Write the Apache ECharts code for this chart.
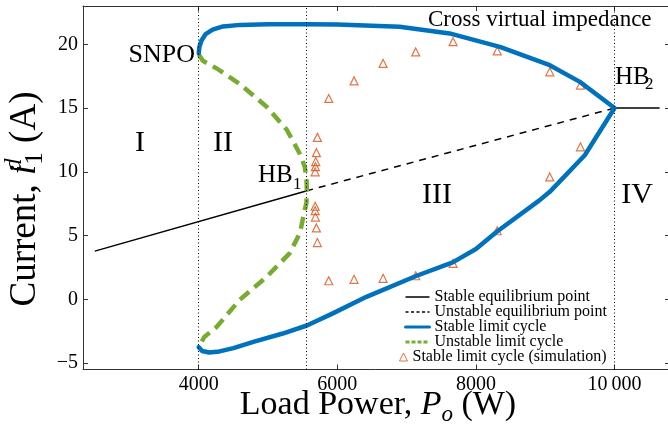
<!DOCTYPE html>
<html>
<head>
<meta charset="utf-8">
<script src="https://cdn.jsdelivr.net/npm/echarts@6/dist/echarts.min.js"></script>
<style>
html, body { margin: 0; padding: 0; background: #fff; }
#chart { width: 668px; height: 437px; }
</style>
</head>
<body>
<div id="chart"></div>
<script>
// equilibrium branch (load power W, current A)
const eqStableLeft = [[2500, 3.78], [5550, 8.5]]
const eqUnstable = [[5550, 8.5], [10000, 15.0]]
const eqStableRight = [[10000, 15.0], [10650, 15.0]]

// stable limit cycle: lower branch then back along the upper branch
const lcStable = [
  [4000, -3.75], [4050, -4.05], [4150, -4.17], [4300, -4.08], [4500, -3.82],
  [4800, -3.32], [5200, -2.7], [5560, -2.05], [5935, -1.1], [6420, 0.2],
  [7145, 1.85], [7665, 2.9], [8000, 3.95], [8300, 5.3], [8920, 7.78],
  [9065, 8.43], [9570, 11.3], [10000, 15.0],
  [9500, 17.05], [9065, 18.36], [8345, 19.8], [7620, 20.85], [6900, 21.37],
  [6000, 21.55], [5560, 21.57], [5000, 21.57], [4600, 21.52], [4350, 21.4],
  [4200, 21.15], [4100, 20.8], [4040, 20.3], [4010, 19.8], [4000, 19.3]
]

// unstable limit cycle: SNPO -> HB1 -> lower fold
const lcUnstable = [
  [4000, 19.2], [4060, 18.7], [4260, 18.1], [4590, 16.9], [4980, 15.1],
  [5270, 13.3], [5460, 11.4], [5530, 10.4], [5555, 9.4], [5560, 8.5],
  [5555, 7.6], [5530, 7.0], [5460, 5.2], [5310, 3.6], [4980, 1.77],
  [4590, -0.05], [4260, -2.15], [4080, -2.95], [4000, -3.75]
]

// simulated limit cycle extrema
const simPoints = [
  [5876, 15.75], [6241, 17.13], [6660, 18.5], [7131, 19.4], [7670, 20.2],
  [8307, 19.48], [9065, 17.84], [9508, 16.8],
  [9508, 11.96], [9065, 9.6], [8307, 5.38], [7670, 2.82], [7131, 1.85],
  [6660, 1.65], [6241, 1.57], [5876, 1.46],
  [5712, 12.7], [5698, 11.5], [5688, 10.8], [5684, 10.4], [5680, 10.0],
  [5680, 7.3], [5680, 6.95], [5684, 6.45], [5698, 5.6], [5712, 4.45]
]

const regionLines = [4000, 5550, 10000]
const xTicks = [4000, 6000, 8000, 10000]
const yTicks = [-5, 0, 5, 10, 15, 20]

const FONT = "'Liberation Serif', 'Times New Roman', serif"
const AXIS_COLOR = '#333'
const BLUE = '#0072BD'
const GREEN = '#77AC30'
const ORANGE = '#D95319'

const chart = echarts.init(document.getElementById('chart'))

function xAxisCfg (pos, labels) {
  return {
    type: 'value',
    position: pos,
    min: 2330,
    max: 10800,
    axisLine: { show: true, onZero: false, lineStyle: { color: AXIS_COLOR, width: 1 } },
    axisTick: { show: true, inside: true, length: 5, customValues: xTicks, lineStyle: { color: AXIS_COLOR } },
    axisLabel: {
      show: labels,
      customValues: xTicks,
      margin: 5,
      fontFamily: FONT,
      fontSize: 20,
      color: '#000',
      formatter: function (v) { return v === 10000 ? '10\u2009000' : String(v) }
    },
    splitLine: { show: false }
  }
}

function yAxisCfg (pos, labels) {
  return {
    type: 'value',
    position: pos,
    min: -5.5,
    max: 23,
    axisLine: { show: true, onZero: false, lineStyle: { color: AXIS_COLOR, width: 1 } },
    axisTick: { show: true, inside: true, length: 5, customValues: yTicks, lineStyle: { color: AXIS_COLOR } },
    axisLabel: {
      show: labels,
      customValues: yTicks,
      margin: 5,
      fontFamily: FONT,
      fontSize: 20,
      color: '#000',
      formatter: function (v) { return v < 0 ? '\u2212' + Math.abs(v) : String(v) }
    },
    splitLine: { show: false }
  }
}

function txt (s, x, y, size, align) {
  return {
    type: 'text',
    x: x,
    y: y,
    silent: true,
    style: { text: s, fontFamily: FONT, fontSize: size, fill: '#000', align: align || 'center', verticalAlign: 'middle' }
  }
}

const hideSymbol = { opacity: 0 }

const option = {
  animation: false,
  backgroundColor: '#fff',
  grid: { left: 83, top: 6, right: -2, bottom: 67.5, containLabel: false, outerBoundsMode: 'none' },
  xAxis: [xAxisCfg('bottom', true), xAxisCfg('top', false)],
  yAxis: [yAxisCfg('left', true), yAxisCfg('right', false)],
  legend: [
    {
      orient: 'vertical',
      left: 404,
      top: 289,
      padding: 0,
      itemWidth: 24,
      itemHeight: 10,
      itemGap: -1,
      selectedMode: false,
      textStyle: { fontFamily: FONT, fontSize: 16, color: '#000' },
      data: [
        { name: 'Stable equilibrium point', itemStyle: hideSymbol, lineStyle: { width: 1.5 } },
        { name: 'Unstable equilibrium point', itemStyle: hideSymbol, lineStyle: { width: 1.5, type: [3, 2.5] } },
        { name: 'Stable limit cycle', itemStyle: hideSymbol, lineStyle: { width: 3 } },
        { name: 'Unstable limit cycle', itemStyle: hideSymbol, lineStyle: { width: 3, type: [4, 2] } }
      ]
    },
    {
      orient: 'vertical',
      left: 399,
      top: 349,
      padding: 0,
      itemWidth: 8,
      itemHeight: 8,
      selectedMode: false,
      textStyle: { fontFamily: FONT, fontSize: 16, color: '#000' },
      data: [
        { name: 'Stable limit cycle (simulation)', itemStyle: { color: 'transparent', borderColor: ORANGE, borderWidth: 1 } }
      ]
    }
  ],
  series: [
    {
      name: 'Stable equilibrium point',
      type: 'line',
      data: eqStableLeft,
      symbol: 'none',
      lineStyle: { color: '#000', width: 1.5 }
    },
    {
      name: 'Stable equilibrium point',
      type: 'line',
      data: eqStableRight,
      symbol: 'none',
      lineStyle: { color: '#000', width: 1.5 }
    },
    {
      name: 'Unstable equilibrium point',
      type: 'line',
      data: eqUnstable,
      symbol: 'none',
      lineStyle: { color: '#000', width: 1.5, type: [7, 6] }
    },
    {
      name: 'Unstable limit cycle',
      type: 'line',
      data: lcUnstable,
      symbol: 'none',
      lineStyle: { color: GREEN, width: 4.5, type: [12, 7] }
    },
    {
      name: 'regions',
      type: 'line',
      data: [],
      symbol: 'none',
      markLine: {
        silent: true,
        symbol: ['none', 'none'],
        label: { show: false },
        lineStyle: { color: '#000', width: 1, type: [1, 2.5] },
        data: regionLines.map(function (v) { return { xAxis: v } })
      }
    },
    {
      name: 'Stable limit cycle',
      type: 'line',
      data: lcStable,
      symbol: 'none',
      lineStyle: { color: BLUE, width: 4.5, cap: 'round', join: 'round' }
    },
    {
      name: 'Stable limit cycle (simulation)',
      type: 'scatter',
      data: simPoints,
      symbol: 'triangle',
      symbolSize: 8,
      itemStyle: { color: 'transparent', borderColor: ORANGE, borderWidth: 1.2 }
    }
  ],
  graphic: [
    txt('SNPO', 195, 55, 26, 'right'),
    txt('I', 140, 143, 30),
    txt('II', 223, 143, 30),
    txt('III', 437, 195, 30),
    txt('IV', 637, 195, 30),
    txt('HB', 258, 175, 25, 'left'),
    txt('1', 293, 185, 17, 'left'),
    txt('HB', 615, 77, 25, 'left'),
    txt('2', 645, 85, 17, 'left'),
    txt('Cross virtual impedance', 428, 20, 23, 'left'),
    {
      type: 'text',
      x: 378,
      y: 405,
      silent: true,
      style: {
        text: '{r|Load Power, }{it|P}{sub|o}{r| (W)}',
        align: 'center',
        verticalAlign: 'middle',
        rich: {
          r: { fontFamily: FONT, fontSize: 34, lineHeight: 42, fill: '#000' },
          it: { fontFamily: FONT, fontSize: 34, lineHeight: 42, fontStyle: 'italic', fill: '#000' },
          sub: { fontFamily: FONT, fontSize: 23, lineHeight: 23, fontStyle: 'italic', fill: '#000', verticalAlign: 'bottom' }
        }
      }
    },
    {
      type: 'text',
      x: 25,
      y: 199,
      rotation: Math.PI / 2,
      silent: true,
      style: {
        text: '{r|Current, }{it|i}{sup|d}{sub|1}{r| (A)}',
        align: 'center',
        verticalAlign: 'middle',
        rich: {
          r: { fontFamily: FONT, fontSize: 37, lineHeight: 46, fill: '#000' },
          it: { fontFamily: FONT, fontSize: 37, lineHeight: 46, fontStyle: 'italic', fill: '#000' },
          sup: { fontFamily: FONT, fontSize: 25, lineHeight: 25, fontStyle: 'italic', fill: '#000', verticalAlign: 'top', align: 'left', width: 0 },
          sub: { fontFamily: FONT, fontSize: 25, lineHeight: 25, fill: '#000', verticalAlign: 'bottom', align: 'left' }
        }
      }
    }
  ]
}

chart.setOption(option)
</script>
</body>
</html>
